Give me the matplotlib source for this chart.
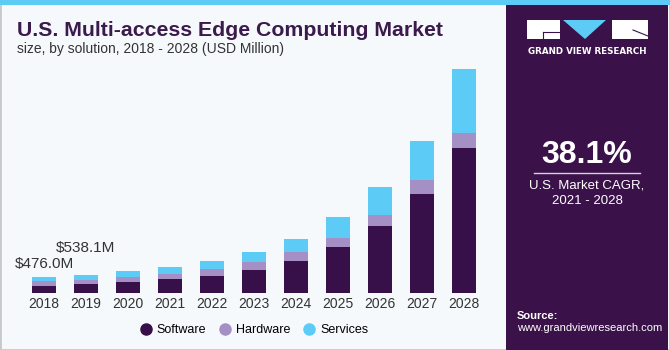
import numpy as np
import matplotlib.pyplot as plt
from matplotlib.patches import Rectangle, Polygon
from matplotlib.lines import Line2D

# 数据 (USD Million)
years = ['2018', '2019', '2020', '2021', '2022', '2023', '2024', '2025', '2026', '2027', '2028']
software = [225, 258, 342, 420, 516, 690, 951, 1343, 1960, 2871, 4205]
hardware = [125, 135, 136, 154, 194, 215, 244, 270, 310, 415, 452]
services = [126, 145.1, 165, 186, 223, 290, 386, 600, 821, 1131, 1839]
labels = {0: '$476.0M', 1: '$538.1M'}

c_sw = '#381049'
c_hw = '#a590c5'
c_sv = '#5ccbf6'
c_bg = '#f5f9fc'
c_panel = '#3a1249'
c_title = '#3b1a4c'

W, H = 670, 350


def fx(px):
    return px / W


def fy(py):
    # 像素坐标(从上往下) -> 图坐标
    return 1 - py / H


fig = plt.figure(figsize=(6.7, 3.5), dpi=100)
fig.patch.set_facecolor(c_bg)

# 边框和顶部条
fig.add_artist(Rectangle((0, 0), 1, 1, transform=fig.transFigure, fill=False,
                         edgecolor='#c8c8c8', lw=2))
fig.add_artist(Rectangle((0, fy(5)), 1, 5 / H, transform=fig.transFigure,
                         facecolor='#5ccbf6', edgecolor='none'))

# 右侧面板
fig.add_artist(Rectangle((fx(506), 0), 1 - fx(506) - fx(2), fy(5), transform=fig.transFigure,
                         facecolor=c_panel, edgecolor='none'))
# 底部渐变
gax = fig.add_axes([fx(506), fy(350), 1 - fx(506) - fx(2), 90 / H])
grad = np.linspace(0, 1, 100).reshape(-1, 1)
top_c = np.array([0x3a, 0x12, 0x49]) / 255
bot_c = np.array([0x4a, 0x9c, 0xd6]) / 255
img = top_c[None, None, :] * (1 - grad[..., None] ** 1.6) + bot_c[None, None, :] * grad[..., None] ** 1.6
gax.imshow(img[::-1], aspect='auto', extent=[0, 1, 0, 1])
# 网格纹理
for k in np.linspace(-1, 2, 25):
    gax.plot([k, 0.5 + (k - 0.5) * 0.3], [0, 0.6], color='white', lw=0.3, alpha=0.25)
for h in [0.08, 0.18, 0.3, 0.44, 0.6]:
    gax.axhline(h, color='white', lw=0.3, alpha=0.25)
gax.set_xlim(0, 1)
gax.set_ylim(0, 1)
gax.axis('off')

# 标志
fig.add_artist(Rectangle((fx(527), fy(39)), fx(33), 19 / H, transform=fig.transFigure,
                         facecolor='white', edgecolor='none'))
fig.add_artist(Rectangle((fx(612), fy(39)), fx(36), 19 / H, transform=fig.transFigure,
                         facecolor='white', edgecolor='none'))
fig.add_artist(Polygon([(fx(563), fy(20)), (fx(606), fy(20)), (fx(585), fy(39))],
                       transform=fig.transFigure, facecolor=c_sv, edgecolor='none'))
fig.add_artist(Line2D([fx(543), fx(560)], [fy(32), fy(32)], transform=fig.transFigure,
                      color=c_panel, lw=0.8))
fig.add_artist(Line2D([fx(543), fx(543)], [fy(32), fy(39)], transform=fig.transFigure,
                      color=c_panel, lw=0.8))
fig.add_artist(Line2D([fx(633), fx(648)], [fy(30), fy(36)], transform=fig.transFigure,
                      color=c_panel, lw=0.8))
fig.text(fx(587), fy(51), 'GRAND VIEW RESEARCH', color='white', fontsize=6.3,
         fontweight='bold', ha='center', va='center', family='DejaVu Sans')

fig.text(fx(587), fy(155), '38.1%', color='white', fontsize=23, fontweight='bold',
         ha='center', va='center', family='Liberation Sans')
fig.add_artist(Line2D([fx(534), fx(640)], [fy(173), fy(173)], transform=fig.transFigure,
                      color='#d8cfe0', lw=1))
fig.text(fx(587), fy(185), 'U.S. Market CAGR,', color='white', fontsize=9.5,
         ha='center', va='center', family='Liberation Sans')
fig.text(fx(587), fy(201), '2021 - 2028', color='white', fontsize=9.5,
         ha='center', va='center', family='Liberation Sans')
fig.text(fx(517), fy(316), 'Source:', color='white', fontsize=8, fontweight='bold',
         ha='left', va='center', family='Liberation Sans')
fig.text(fx(517), fy(328), 'www.grandviewresearch.com', color='white', fontsize=8,
         ha='left', va='center', family='Liberation Sans')

# 标题
fig.text(fx(17), fy(36), 'U.S. Multi-access Edge Computing Market', color=c_title,
         fontsize=15.3, fontweight='bold', ha='left', va='baseline', family='Liberation Sans')
fig.text(fx(17), fy(53), 'size, by solution, 2018 - 2028 (USD Million)', color='#333333',
         fontsize=10, ha='left', va='baseline', family='Liberation Sans')

# 柱状图
scale = 29.0
ax = fig.add_axes([fx(20), fy(293.3), fx(470), (293.3 - 60) / H])
ax.set_facecolor('none')
x = np.arange(len(years))
sw = np.array(software)
hw = np.array(hardware)
sv = np.array(services)
bw = 24 / 42
ax.bar(x, sw, bw, color=c_sw, label='Software')
ax.bar(x, hw, bw, bottom=sw, color=c_hw, label='Hardware')
ax.bar(x, sv, bw, bottom=sw + hw, color=c_sv, label='Services')
ax.set_xlim(-24 / 42, 446 / 42)
ax.set_ylim(0, 233.3 * scale)
ax.set_xticks(x)
ax.set_xticklabels(years, fontsize=10, color='#333333', family='Liberation Sans')
ax.tick_params(axis='x', length=0, pad=3)
ax.set_yticks([])
for s in ax.spines.values():
    s.set_visible(False)

tot = sw + hw + sv
offs = {0: (0, 9), 1: (0, 19)}
for i, t in labels.items():
    ax.annotate(t, (i, tot[i]), xytext=offs[i], textcoords='offset points',
                fontsize=11, color='#333333', ha='center', va='center',
                family='Liberation Sans')

# 图例
leg = [Line2D([], [], marker='o', ls='none', color=c, markersize=8, label=n)
       for c, n in zip([c_sw, c_hw, c_sv], ['Software', 'Hardware', 'Services'])]
fig.legend(handles=leg, loc='center', bbox_to_anchor=(fx(254), fy(330)), ncol=3,
           frameon=False, handlelength=1.0, handletextpad=0.4, columnspacing=1.0,
           prop={'family': 'Liberation Sans', 'size': 9})

fig.savefig('out.png', dpi=100, facecolor=fig.get_facecolor())
